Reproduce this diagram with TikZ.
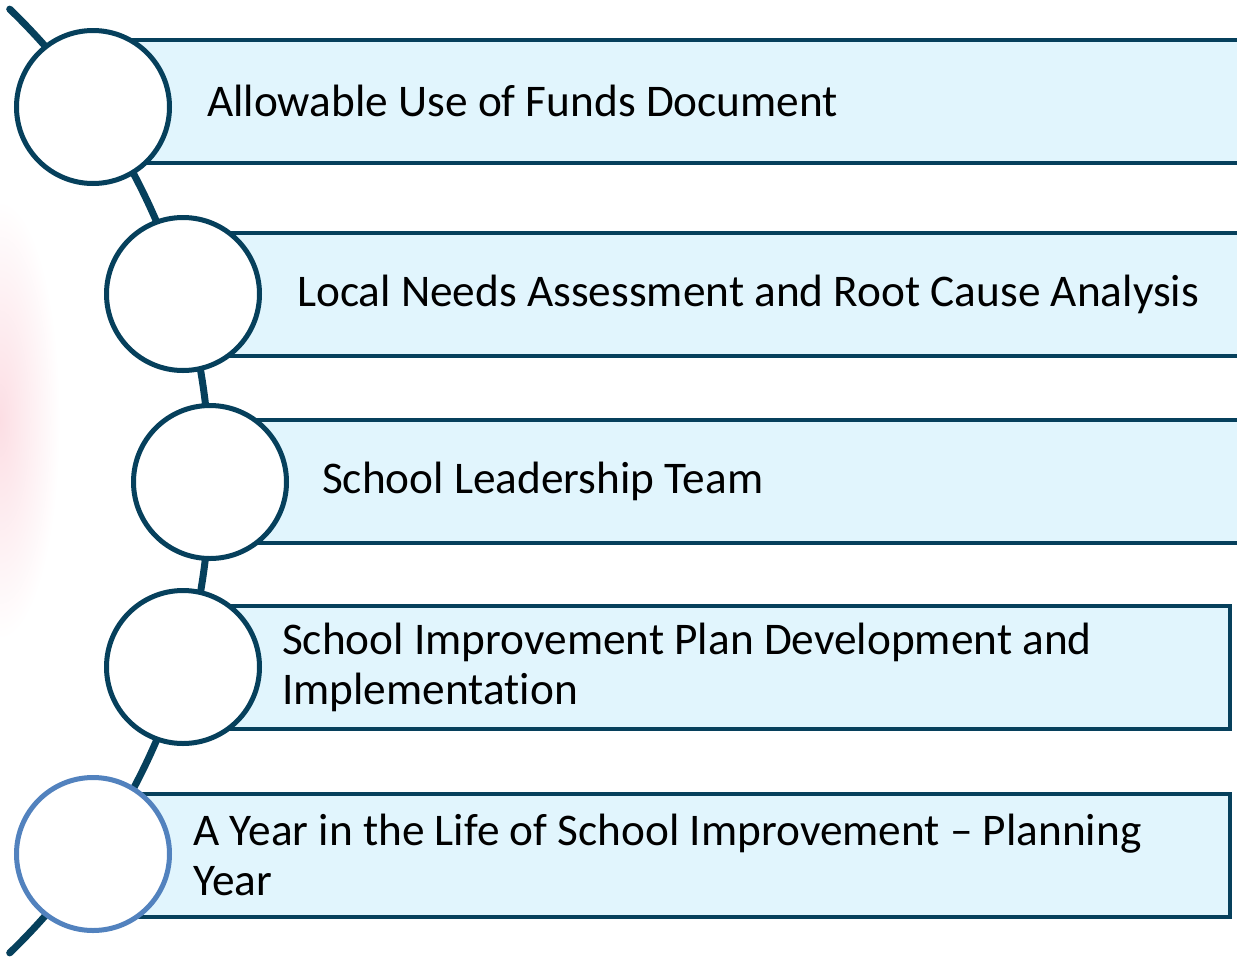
\documentclass[tikz,border=0pt]{standalone}
\usepackage{fontspec}
\setmainfont{Carlito}[RawFeature=-liga]
\usetikzlibrary{positioning}

\definecolor{spine}{RGB}{6,64,92}
\definecolor{barfill}{RGB}{225,245,253}
\definecolor{ringblue}{RGB}{82,130,190}
\definecolor{blush}{RGB}{252,222,228}

\begin{document}
\begin{tikzpicture}[x=1pt, y=-1pt,
    every node/.style={font=\fontsize{45.3}{50}\selectfont},
    bar/.style={draw=spine, fill=barfill, line width=4pt, minimum height=123pt, anchor=west, inner sep=0pt},
    ring/.style={draw=spine, fill=white, line width=5pt, circle, minimum size=153pt, inner sep=0pt},
    itemtext/.style={anchor=west, align=left, inner sep=0pt}]

    \useasboundingbox (0,0) rectangle (1237,956);
    \clip (0,0) rectangle (1237,956);

    % Background
    \shade[inner color=blush, outer color=white] (0,420) ellipse [x radius=60, y radius=220];

    % Spine
    \draw[spine, line width=7pt, line cap=round] (-446,481) ++(-46:656) arc[start angle=-46, end angle=46, radius=656];

    % Bars
    \node[bar, minimum width=1170pt] (bar1) at (93,101) {};
    \node[bar, minimum width=1080pt] (bar2) at (183,294) {};
    \node[bar, minimum width=1050pt] (bar3) at (210,481) {};
    \node[bar, minimum width=1045pt] (bar4) at (183,667) {};
    \node[bar, minimum width=1135pt] (bar5) at (93,855) {};

    % Circles
    \node[ring] (ring1) at (93,107) {};
    \node[ring] (ring2) at (183,294) {};
    \node[ring] (ring3) at (210,482) {};
    \node[ring] (ring4) at (183,667) {};
    \node[ring, draw=ringblue] (ring5) at (93,854) {};

    % Labels
    \node[itemtext, right=114pt of bar1.west] (text1) {Allowable Use of Funds Document};
    \node[itemtext, right=114pt of bar2.west] (text2) {Local Needs Assessment and Root Cause Analysis};
    \node[itemtext, right=112pt of bar3.west] (text3) {School Leadership Team};
    \node[itemtext, right=99pt of bar4.west] (text4) {School Improvement Plan Development and\\Implementation};
    \node[itemtext, right=100pt of bar5.west] (text5) {A Year in the Life of School Improvement -- Planning\\Year};

\end{tikzpicture}
\end{document}
